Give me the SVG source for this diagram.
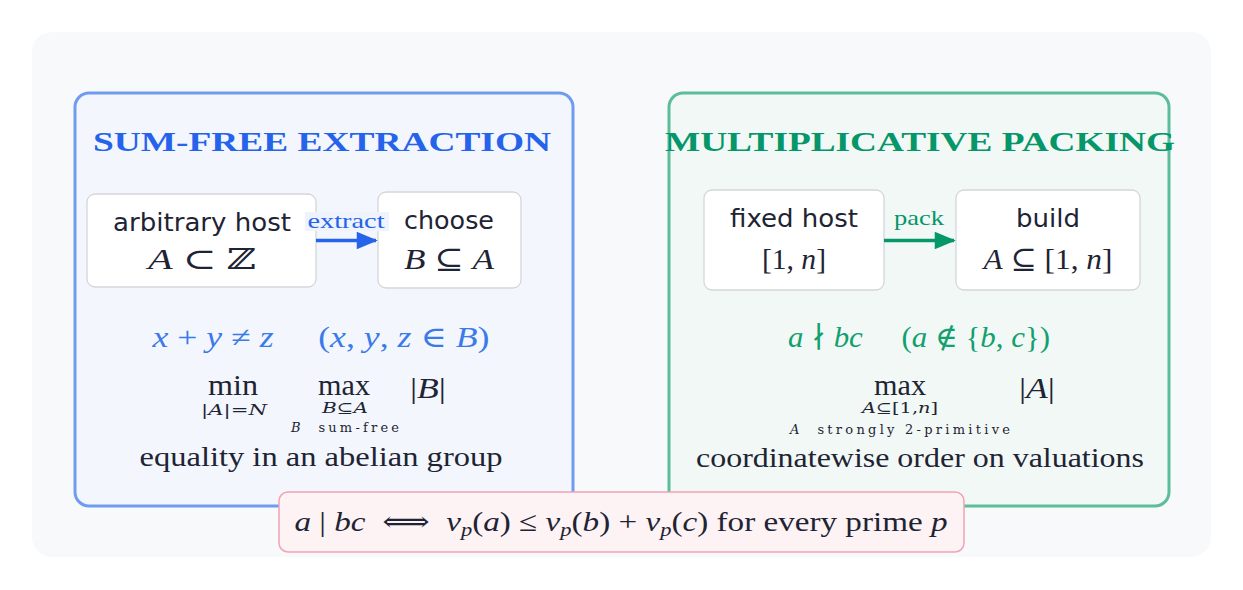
<svg xmlns="http://www.w3.org/2000/svg" width="1243" height="590" viewBox="0 0 1243 590">
<defs>
<style>
.bg{fill:#f8f9fb}
.panelL{fill:#f3f6fd;stroke:#6f9cf0;stroke-width:3}
.panelR{fill:#f2f8f6;stroke:#5cbd99;stroke-width:3}
.node{fill:#ffffff;stroke:#d4d6da;stroke-width:1.3}
.title{font-family:"Liberation Serif",serif;font-weight:bold;font-size:28px;text-anchor:middle}
.sans{font-family:"DejaVu Sans","Noto Sans",sans-serif;font-size:25px;fill:#1e2433;text-anchor:middle}
.m{font-family:"Liberation Serif","DejaVu Serif",serif;font-size:29px;fill:#1e2433;text-anchor:middle}
.i{font-style:italic}
.rm{font-family:"Liberation Serif","DejaVu Serif",serif;font-size:28px;fill:#1e2433;text-anchor:middle}
.sub{font-family:"DejaVu Serif","Liberation Serif",serif;font-size:14px;fill:#1e2433;text-anchor:middle}
.tiny{font-family:"DejaVu Serif","Liberation Serif",serif;font-size:13px;fill:#1e2433;text-anchor:middle}
.lbl{font-family:"Liberation Serif",serif;font-size:21px;text-anchor:middle}
</style>
<marker id="arB" viewBox="0 0 12 10" refX="11" refY="5" markerWidth="6.8" markerHeight="5" orient="auto" markerUnits="strokeWidth"><path d="M0,0 L12,5 L0,10 z" fill="#2563eb"/></marker>
<marker id="arG" viewBox="0 0 12 10" refX="11" refY="5" markerWidth="6.8" markerHeight="5" orient="auto" markerUnits="strokeWidth"><path d="M0,0 L12,5 L0,10 z" fill="#059669"/></marker>
</defs>
<rect width="1243" height="590" fill="#ffffff"/>
<rect class="bg" x="32" y="32" width="1179" height="525" rx="20"/>

<g id="panel-sumfree">
<rect class="panelL" x="75" y="93" width="498" height="413" rx="14"/>
<text class="title" x="322" y="151" fill="#2563eb" textLength="458" lengthAdjust="spacingAndGlyphs">SUM-FREE EXTRACTION</text>
<text class="m" x="321" y="347" style="fill:#3b7be9" textLength="337" lengthAdjust="spacingAndGlyphs" xml:space="preserve"><tspan class="i">x</tspan> + <tspan class="i">y</tspan> ≠ <tspan class="i">z</tspan>     (<tspan class="i">x</tspan>, <tspan class="i">y</tspan>, <tspan class="i">z</tspan> ∈ <tspan class="i">B</tspan>)</text>
<text class="m" x="233" y="395" textLength="50" lengthAdjust="spacingAndGlyphs">min</text>
<text class="sub" x="234" y="415" textLength="66" lengthAdjust="spacingAndGlyphs">|<tspan class="i">A</tspan>|=<tspan class="i">N</tspan></text>
<text class="m" x="344" y="395" textLength="52" lengthAdjust="spacingAndGlyphs">max</text>
<text class="sub" x="345" y="413" textLength="46" lengthAdjust="spacingAndGlyphs"><tspan class="i">B</tspan>⊆<tspan class="i">A</tspan></text>
<text class="tiny" x="345" y="432" textLength="108" xml:space="preserve"><tspan class="i">B</tspan>  sum-free</text>
<text class="m" x="428" y="398" textLength="36" lengthAdjust="spacingAndGlyphs">|<tspan class="i">B</tspan>|</text>
<text class="rm" x="321" y="466" textLength="363" lengthAdjust="spacingAndGlyphs">equality in an abelian group</text>
</g>

<g id="panel-mult">
<rect class="panelR" x="669" y="93" width="500" height="413" rx="14"/>
<text class="title" x="920" y="151" fill="#059669" textLength="510" lengthAdjust="spacingAndGlyphs">MULTIPLICATIVE PACKING</text>
<text class="m" x="919" y="347" style="fill:#12a06e" textLength="262" lengthAdjust="spacingAndGlyphs" xml:space="preserve"><tspan class="i">a</tspan> ∤ <tspan class="i">bc</tspan>     (<tspan class="i">a</tspan> ∉ {<tspan class="i">b</tspan>, <tspan class="i">c</tspan>})</text>
<text class="m" x="900" y="395" textLength="52" lengthAdjust="spacingAndGlyphs">max</text>
<text class="sub" x="900" y="413" textLength="76" lengthAdjust="spacingAndGlyphs"><tspan class="i">A</tspan>⊆[1,<tspan class="i">n</tspan>]</text>
<text class="tiny" x="900" y="434" textLength="220" xml:space="preserve"><tspan class="i">A</tspan>  strongly 2-primitive</text>
<text class="m" x="1037" y="398" textLength="36" lengthAdjust="spacingAndGlyphs">|<tspan class="i">A</tspan>|</text>
<text class="rm" x="920" y="467" textLength="448" lengthAdjust="spacingAndGlyphs">coordinatewise order on valuations</text>
</g>

<g id="node-host">
<rect class="node" x="87" y="194" width="229" height="93" rx="8"/>
<text class="sans" x="202" y="231" textLength="178" lengthAdjust="spacingAndGlyphs">arbitrary host</text>
<text class="m" x="202" y="269" textLength="108" lengthAdjust="spacingAndGlyphs" xml:space="preserve"><tspan class="i">A</tspan> ⊂ <tspan font-family="DejaVu Serif">ℤ</tspan></text>
</g>
<g id="node-choose">
<rect class="node" x="378" y="192" width="143" height="96" rx="8"/>
<text class="sans" x="449" y="229" textLength="90" lengthAdjust="spacingAndGlyphs">choose</text>
<text class="m" x="449" y="269" textLength="90" lengthAdjust="spacingAndGlyphs"><tspan class="i">B</tspan> ⊆ <tspan class="i">A</tspan></text>
</g>
<g id="node-fixed">
<rect class="node" x="704" y="190" width="180" height="100" rx="8"/>
<text class="sans" x="794" y="227" textLength="128" lengthAdjust="spacingAndGlyphs">fixed host</text>
<text class="m" x="794" y="269" textLength="64" lengthAdjust="spacingAndGlyphs">[1, <tspan class="i">n</tspan>]</text>
</g>
<g id="node-build">
<rect class="node" x="956" y="190" width="184" height="100" rx="8"/>
<text class="sans" x="1048" y="227" textLength="64" lengthAdjust="spacingAndGlyphs">build</text>
<text class="m" x="1048" y="269" textLength="129" lengthAdjust="spacingAndGlyphs"><tspan class="i">A</tspan> ⊆ [1, <tspan class="i">n</tspan>]</text>
</g>

<g id="connectors">
<line x1="316" y1="240.5" x2="376" y2="240.5" stroke="#2563eb" stroke-width="3.5" marker-end="url(#arB)"/>
<rect x="305" y="212" width="84" height="19" fill="#eef3fd"/>
<text class="lbl" x="346" y="228" fill="#2563eb" textLength="77" lengthAdjust="spacingAndGlyphs">extract</text>
<line x1="884" y1="240.5" x2="954" y2="240.5" stroke="#059669" stroke-width="3.5" marker-end="url(#arG)"/>
<text class="lbl" x="919" y="225" fill="#059669" textLength="50" lengthAdjust="spacingAndGlyphs">pack</text>
</g>

<g id="note">
<rect x="279" y="492" width="685" height="60" rx="9" fill="#fdf2f4" stroke="#f1a3b7" stroke-width="1.5"/>
<text class="m" x="621" y="531" style="font-size:28px" textLength="653" lengthAdjust="spacingAndGlyphs" xml:space="preserve"><tspan class="i">a</tspan> | <tspan class="i">bc</tspan>  ⟺  <tspan class="i">v</tspan><tspan class="i" font-size="19" dy="5">p</tspan><tspan dy="-5">(</tspan><tspan class="i">a</tspan>) ≤ <tspan class="i">v</tspan><tspan class="i" font-size="19" dy="5">p</tspan><tspan dy="-5">(</tspan><tspan class="i">b</tspan>) + <tspan class="i">v</tspan><tspan class="i" font-size="19" dy="5">p</tspan><tspan dy="-5">(</tspan><tspan class="i">c</tspan>) for every prime <tspan class="i">p</tspan></text>
</g>
</svg>
